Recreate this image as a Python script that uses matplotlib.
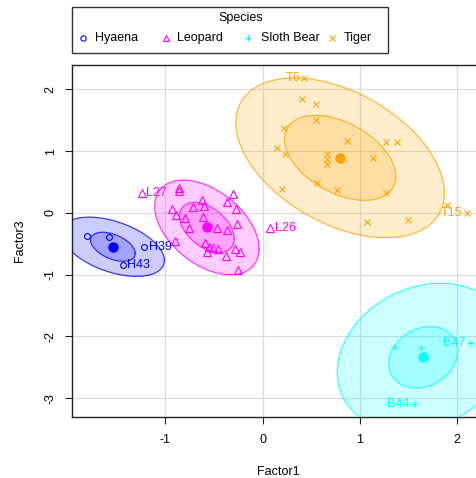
import numpy as np
import matplotlib
matplotlib.use("Agg")
import matplotlib.pyplot as plt
from matplotlib.lines import Line2D
from matplotlib.patches import Rectangle, Polygon

plt.rcParams["font.family"] = ["Liberation Sans", "DejaVu Sans"]
plt.rcParams["axes.unicode_minus"] = False

# ---- data -------------------------------------------------------------
species = ["Hyaena", "Leopard", "Sloth Bear", "Tiger"]
colors = ["#0000FF", "#FF00FF", "#00FFFF", "#FFA500"]
markers = ["o", "^", "+", "x"]
marker_sizes = [4.2, 5.5, 4.6, 4.2]

hyaena_x = [-1.809, -1.576, -1.219, -1.438]
hyaena_y = [-0.372, -0.388, -0.560, -0.846]
hyaena_ids = ["", "", "H39", "H43"]

leopard_x = [-1.243, -0.856, -0.856, -0.300, -0.626, -0.362, -0.712, -0.602,
             -0.273, -0.934, -0.890, -0.797, -0.615, -0.259, -0.753, -0.465,
             -0.368, -0.900, -0.592, -0.548, -0.512, -0.455, -0.574, -0.283,
             -0.231, -0.376, -0.249, 0.077]
leopard_y = [0.314, 0.400, 0.350, 0.297, 0.205, 0.178, 0.097, 0.113,
             0.060, 0.055, -0.037, -0.081, -0.074, -0.188, -0.243, -0.252,
             -0.280, -0.458, -0.495, -0.550, -0.576, -0.587, -0.631, -0.587,
             -0.641, -0.700, -0.927, -0.243]
leopard_ids = ["L27"] + [""] * 26 + ["L26"]

bear_x = [1.363, 1.627, 2.135, 1.552]
bear_y = [-2.168, -2.195, -2.113, -3.095]
bear_ids = ["", "", "B47", "B44"]

tiger_x = [0.430, 0.403, 0.545, 0.550, 0.221, 0.152, 0.232, 0.870, 1.270,
           1.384, 0.660, 0.660, 0.660, 1.140, 0.557, 0.763, 0.204, 1.265,
           1.072, 1.494, 1.900, 2.100]
tiger_y = [2.190, 1.835, 1.762, 1.497, 1.373, 1.050, 0.950, 1.160, 1.142,
           1.149, 0.958, 0.872, 0.783, 0.880, 0.485, 0.367, 0.383, 0.324,
           -0.154, -0.113, 0.130, -0.005]
tiger_ids = ["T6"] + [""] * 20 + ["T15"]

# group centres and data-ellipse shapes (half extents along x / y, correlation)
center_x = [-1.541, -0.574, 1.652, 0.797]
center_y = [-0.550, -0.237, -2.340, 0.890]
inner_hx = [0.230, 0.281, 0.355, 0.573]
inner_hy = [0.235, 0.405, 0.498, 0.688]
outer_hx = [0.530, 0.537, 0.885, 1.073]
outer_hy = [0.480, 0.766, 1.200, 1.294]
ell_rho = [-0.46, -0.45, 0.20, -0.44]

xs = [hyaena_x, leopard_x, bear_x, tiger_x]
ys = [hyaena_y, leopard_y, bear_y, tiger_y]
ids = [hyaena_ids, leopard_ids, bear_ids, tiger_ids]

# ---- figure -----------------------------------------------------------
W, H = 476, 478
fig = plt.figure(figsize=(W / 100, H / 100), dpi=100)


def fx(px):
    return px / W


def fy(py):
    return 1 - py / H


left, right, top, bottom = 71.5, 485.5, 64.5, 417.0
ax = fig.add_axes([fx(left), fy(bottom), (right - left) / W, (bottom - top) / H])

allx = np.concatenate([np.asarray(v) for v in xs])
ally = np.concatenate([np.asarray(v) for v in ys])
xr = allx.max() - allx.min()
yr = ally.max() - ally.min()
ax.set_xlim(allx.min() - 0.04 * xr, allx.max() + 0.04 * xr)
ax.set_ylim(ally.min() - 0.04 * yr, ally.max() + 0.04 * yr)

ax.set_xticks([-1, 0, 1, 2])
ax.set_yticks([-3, -2, -1, 0, 1, 2])
ax.grid(True, color="#dcdcdc", lw=0.9, zorder=0)
ax.set_axisbelow(True)
for s in ax.spines.values():
    s.set_color("#222222")
    s.set_linewidth(1.0)
ax.tick_params(direction="out", length=5.2, width=0.8, labelsize=9,
               color="#222222", pad=7)
ax.tick_params(axis="y", pad=5.5)
plt.setp(ax.get_yticklabels(), rotation=90, va="center", ha="right")
ax.set_xlabel("Factor1", fontsize=9)
ax.set_ylabel("Factor3", fontsize=9)
ax.xaxis.set_label_coords(0.5, (bottom - 471.7) / (bottom - top))
ax.xaxis.label.set_va("center")
ax.yaxis.set_label_coords((20 - left) / (right - left), 0.5)
ax.yaxis.label.set_va("center")

t = np.linspace(0, 2 * np.pi, 200)
xmid = np.mean(ax.get_xlim())

for i in range(len(species)):
    c = colors[i]
    ax.plot(xs[i], ys[i], linestyle="none", marker=markers[i],
            ms=marker_sizes[i], mfc="none", mec=c, mew=0.8, zorder=2)
    for x, y, lab in zip(xs[i], ys[i], ids[i]):
        if not lab:
            continue
        if x > xmid:
            ax.annotate(lab, (x, y), xytext=(-3.2, 0), textcoords="offset points",
                        ha="right", va="center", color=c, fontsize=9, zorder=2)
        else:
            ax.annotate(lab, (x, y), xytext=(3.2, 0), textcoords="offset points",
                        ha="left", va="center", color=c, fontsize=9, zorder=2)
    s = np.sqrt(1 - ell_rho[i] ** 2)
    for hx, hy in ((outer_hx[i], outer_hy[i]), (inner_hx[i], inner_hy[i])):
        ex = center_x[i] + hx * np.cos(t)
        ey = center_y[i] + hy * (ell_rho[i] * np.cos(t) + s * np.sin(t))
        ax.add_patch(Polygon(np.column_stack([ex, ey]), closed=True,
                             facecolor=c, alpha=0.2, edgecolor="none", zorder=3))
        ax.plot(ex, ey, color=c, lw=0.9, alpha=0.75, zorder=3)
    ax.plot(center_x[i], center_y[i], marker="o", ms=6.5, color=c,
            linestyle="none", zorder=4)

# ---- legend above the plot ---------------------------------------------
fig.add_artist(Rectangle((fx(71.7), fy(52.7)), (388.3 - 71.7) / W, (52.7 - 6.7) / H,
                         transform=fig.transFigure, fill=False,
                         edgecolor="#333333", lw=1.0))
fig.text(fx(241), fy(18), "Species", ha="center", va="center", fontsize=9)
mk_x = [82.7, 166.0, 248.3, 331.7]
tx_x = [95.0, 177.3, 261.0, 343.3]
for i in range(len(species)):
    fig.add_artist(Line2D([fx(mk_x[i])], [fy(38.3)], transform=fig.transFigure,
                          marker=markers[i], ms=marker_sizes[i] * 0.9,
                          mfc="none", mec=colors[i], mew=0.8, linestyle="none"))
    fig.text(fx(tx_x[i]), fy(38.3), species[i], ha="left", va="center", fontsize=9)

fig.savefig("out.png", dpi=100)
